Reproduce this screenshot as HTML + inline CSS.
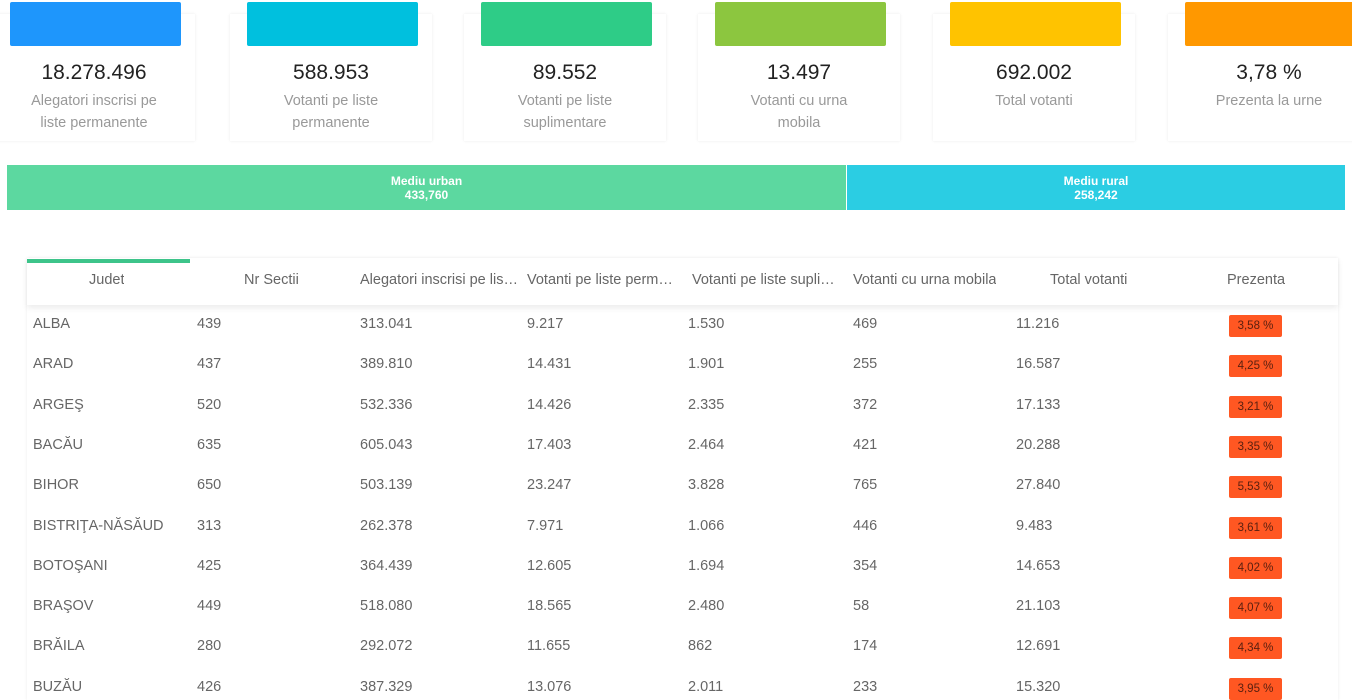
<!DOCTYPE html>
<html><head><meta charset="utf-8"><style>
*{box-sizing:border-box;margin:0;padding:0}
body{width:1352px;height:700px;overflow:hidden;background:#fff;font-family:"Liberation Sans",sans-serif;position:relative}
.card{position:absolute;top:14px;width:202px;height:127px;background:#fff;box-shadow:0 0 3px rgba(0,0,0,.08)}
.blk{position:absolute;top:2px;height:44px;border-radius:2px}
.num{position:absolute;top:47px;width:202px;text-align:center;font-size:21px;color:#222}
.lbl{position:absolute;top:76px;width:202px;text-align:center;font-size:14.5px;line-height:22px;color:#999}
.bar{position:absolute;top:165px;height:45px;color:#fff;font-weight:bold;font-size:12px;text-align:center;line-height:14px;padding-top:9px}
.tbl{position:absolute;left:27px;top:258px;width:1311px;height:442px;box-shadow:0 0 3px rgba(0,0,0,.08)}
.hdr{position:absolute;left:0;top:0;width:1311px;height:47px;box-shadow:0 3px 6px rgba(0,0,0,.08);background:#fff}
.h{position:absolute;top:14px;font-size:14.5px;color:#666;white-space:nowrap;overflow:hidden;text-overflow:ellipsis}
.c{position:absolute;font-size:14.5px;color:#666}
.badge{position:absolute;width:53px;height:22px;background:#ff5722;border-radius:2px;color:#5a2010;font-size:11.5px;text-align:center;line-height:22px}
</style></head><body>
<div id="cards"></div>
<div class="bar" style="left:7px;width:839px;background:#5cd8a0">Mediu urban<br>433,760</div>
<div class="bar" style="left:847px;width:498px;background:#2bcde3">Mediu rural<br>258,242</div>
<div class="tbl">
<div class="hdr">
<div style="position:absolute;left:0;top:1px;width:163px;height:4px;background:#3dc48a"></div>
<div class="h" style="left:62px">Judet</div>
<div class="h" style="left:217px">Nr Sectii</div>
<div class="h" style="left:333px;width:158px">Alegatori inscrisi pe liste permanente</div>
<div class="h" style="left:500px;width:147px">Votanti pe liste permanente</div>
<div class="h" style="left:665px;width:145px">Votanti pe liste suplimentare</div>
<div class="h" style="left:826px">Votanti cu urna mobila</div>
<div class="h" style="left:1023px">Total votanti</div>
<div class="h" style="left:1200px">Prezenta</div>
</div>
<div id="rows"></div>
</div>
<script>
const cardNums=["18.278.496","588.953","89.552","13.497","692.002","3,78 %"];
const cardLbls=["Alegatori inscrisi pe<br>liste permanente","Votanti pe liste<br>permanente","Votanti pe liste<br>suplimentare","Votanti cu urna<br>mobila","Total votanti","Prezenta la urne"];
const cardColors=["#1e96fc","#00c0de","#2ecc87","#8cc63f","#ffc300","#ff9800"];
const cardX=[-7,230,464,698,933,1168];
const cards=document.getElementById('cards');
cardNums.forEach((n,i)=>{
 const c=document.createElement('div');c.className='card';c.style.left=cardX[i]+'px';
 
 
 c.innerHTML='<div class="num">'+n+'</div><div class="lbl">'+cardLbls[i]+'</div>';
 cards.appendChild(c);
 const b=document.createElement('div');b.className='blk';b.style.left=(cardX[i]+17)+'px';b.style.width='171px';b.style.background=cardColors[i];
 
 
 cards.appendChild(b);
});
const judete=["ALBA","ARAD","ARGEŞ","BACĂU","BIHOR","BISTRIŢA-NĂSĂUD","BOTOŞANI","BRAŞOV","BRĂILA","BUZĂU"];
const sectii=["439","437","520","635","650","313","425","449","280","426"];
const alegatori=["313.041","389.810","532.336","605.043","503.139","262.378","364.439","518.080","292.072","387.329"];
const perm=["9.217","14.431","14.426","17.403","23.247","7.971","12.605","18.565","11.655","13.076"];
const supl=["1.530","1.901","2.335","2.464","3.828","1.066","1.694","2.480","862","2.011"];
const urna=["469","255","372","421","765","446","354","58","174","233"];
const total=["11.216","16.587","17.133","20.288","27.840","9.483","14.653","21.103","12.691","15.320"];
const prezenta=["3,58 %","4,25 %","3,21 %","3,35 %","5,53 %","3,61 %","4,02 %","4,07 %","4,34 %","3,95 %"];
const colX=[6,170,333,500,661,826,989];
const rows=document.getElementById('rows');
judete.forEach((j,i)=>{
 const y=58+i*40.3;
 const vals=[j,sectii[i],alegatori[i],perm[i],supl[i],urna[i],total[i]];
 vals.forEach((v,k)=>{
  const d=document.createElement('div');d.className='c';d.style.left=colX[k]+'px';d.style.top=y+'px';d.textContent=v;
  
  
  rows.appendChild(d);
 });
 const b=document.createElement('div');b.className='badge';b.style.left='1202px';b.style.top=(y-1)+'px';b.textContent=prezenta[i];
 
 
 rows.appendChild(b);
});
</script>
</body></html>
